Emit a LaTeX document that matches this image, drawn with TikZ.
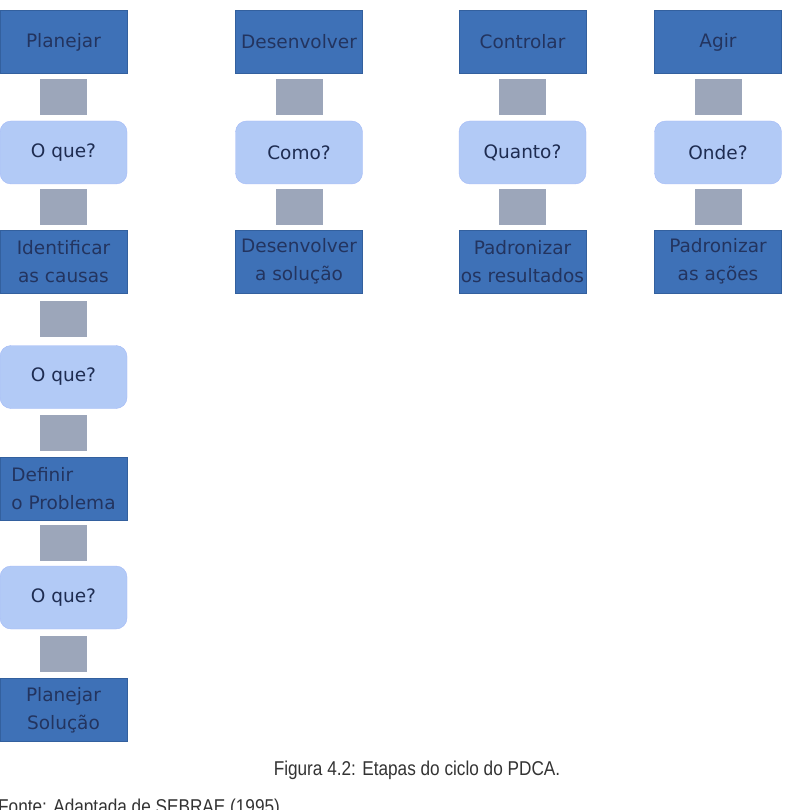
\documentclass[tikz,border=0pt]{standalone}
\usepackage{fontspec}
\setmainfont{DejaVu Sans}
\newfontfamily\capfont[FakeStretch=0.86]{Liberation Sans}
\definecolor{dkblue}{HTML}{3E71B7}
\definecolor{dkedge}{HTML}{33609E}
\definecolor{ltblue}{HTML}{B2CAF6}
\definecolor{grsq}{HTML}{9CA6BA}
\definecolor{navy}{HTML}{23345F}
\definecolor{capgray}{HTML}{333333}
\tikzset{
  darkbox/.style={fill=dkblue, draw=dkedge, line width=0.8pt, minimum width=127pt, minimum height=63pt,
    inner sep=0pt, text=navy, align=center, font=\fontsize{18.5}{28}\selectfont},
  lightbox/.style={fill=ltblue, draw=ltblue!92!blue, rounded corners=11pt, minimum width=127pt, minimum height=63pt,
    inner sep=0pt, text=navy!85!black, align=center, font=\fontsize{18.5}{28}\selectfont},
  graysq/.style={fill=grsq, draw=none, minimum width=47pt, minimum height=36pt, inner sep=0pt},
  link/.style={draw=none}
}
\begin{document}
\begin{tikzpicture}[x=1pt, y=-1pt]
\useasboundingbox (0,0) rectangle (785,810);
% column 1
\node[darkbox]  (p1) at (63.5,42)   {Planejar};
\node[lightbox] (q1) at (63.5,152.5) {O que?};
\node[darkbox]  (p2) at (63.5,261.5) {Identificar\\as causas};
\node[lightbox] (q2) at (63.5,377)  {O que?};
\node[darkbox, align=left]  (p3) at (63.5,488.5) {Definir\\ o Problema};
\node[lightbox] (q3) at (63.5,597.5) {O que?};
\node[darkbox]  (p4) at (63.5,710)  {Planejar\\Solução};
% column 2
\node[darkbox]  (d1) at (299,42)    {Desenvolver};
\node[lightbox] (d2) at (299,152.5) {Como?};
\node[darkbox]  (d3) at (299,261.5) {Desenvolver\\a solução};
% column 3
\node[darkbox]  (c1) at (522.5,42)    {Controlar};
\node[lightbox] (c2) at (522.5,152.5) {Quanto?};
\node[darkbox]  (c3) at (522.5,261.5) {Padronizar\\os resultados};
% column 4
\node[darkbox]  (a1) at (718,42)    {Agir};
\node[lightbox] (a2) at (718,152.5) {Onde?};
\node[darkbox]  (a3) at (718,261.5) {Padronizar\\as ações};
% connectors (gray squares)
\foreach \a/\b in {p1/q1,q1/p2,p2/q2,q2/p3,p3/q3,q3/p4,d1/d2,d2/d3,c1/c2,c2/c3,a1/a2,a2/a3}{
  \path[link] (\a.south) -- (\b.north) node[midway, graysq] (s\a\b) {};
}
% caption
\node[anchor=base, text=capgray, font=\capfont\fontsize{20}{22}\selectfont] (cap) at (417,775) {Figura 4.2: Etapas do ciclo do PDCA.};
\node[anchor=base west, inner sep=0pt, text=capgray, font=\capfont\fontsize{20}{22}\selectfont] (fonte) at (-2,813) {Fonte: Adaptada de SEBRAE (1995).};
\end{tikzpicture}
\end{document}
